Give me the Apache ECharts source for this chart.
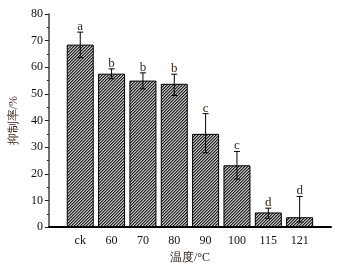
<!DOCTYPE html>
<html><head><meta charset="utf-8">
<script src="https://cdn.jsdelivr.net/npm/echarts@6/dist/echarts.min.js"></script>
<style>html,body{margin:0;padding:0;background:#fff}#c{width:343px;height:269px}</style>
</head><body><div id="c"></div>
<script>
var categories = ['ck','60','70','80','90','100','115','121'];
var values = [68.5, 57.6, 55.0, 53.8, 35.0, 23.2, 5.5, 3.7];
var errHigh = [73.2, 59.4, 57.9, 57.4, 42.6, 28.4, 7.1, 11.5];
var errLow = [63.6, 55.7, 51.9, 49.4, 27.9, 18.0, 3.3, 1.9];
var letters = ['a','b','b','b','c','c','d','d'];
var yTicks = [0,10,20,30,40,50,60,70,80];

var pc = document.createElement('canvas');
pc.width = 3; pc.height = 3;
var g = pc.getContext('2d');
g.fillStyle = '#c4c4c4'; g.fillRect(0,0,3,3);
g.fillStyle = '#202020';
g.fillRect(0,2,1,1); g.fillRect(1,1,1,1); g.fillRect(2,0,1,1);
g.fillStyle = '#777';
g.fillRect(1,2,1,1); g.fillRect(2,1,1,1); g.fillRect(0,0,1,1);

var font = '"Liberation Serif", "Times New Roman", serif';
var chart = echarts.init(document.getElementById('c'));
var barData = values.map(function(v,i){return [i+1, v];});
var errData = values.map(function(v,i){return [i+1, errLow[i], errHigh[i], letters[i]];});
chart.setOption({
  animation:false,
  grid:{left:40, right:12, top:14, bottom:40},
  xAxis:{type:'value', min:0, max:9, interval:1,
    axisLine:{lineStyle:{color:'#000', width:2}},
    axisTick:{show:false}, splitLine:{show:false},
    axisLabel:{color:'#111', fontFamily:font, fontSize:12, margin:8,
      formatter:function(v){return (v>=1&&v<=categories.length)?categories[v-1]:'';}},
    name:'温度/°C', nameLocation:'middle', nameGap:24,
    nameTextStyle:{color:'#2a2018', fontFamily:font, fontSize:12}},
  yAxis:{type:'value', min:yTicks[0], max:yTicks[yTicks.length-1], interval:10,
    axisLine:{show:true, lineStyle:{color:'#444', width:1.5}},
    axisTick:{show:true, length:4, lineStyle:{color:'#222'}},
    minorTick:{show:true, splitNumber:2, length:2, lineStyle:{color:'#222'}},
    splitLine:{show:false},
    axisLabel:{color:'#111', fontFamily:font, fontSize:12, margin:6},
    name:'抑制率/%', nameLocation:'middle', nameGap:23,
    nameTextStyle:{color:'#3a2418', fontFamily:font, fontSize:12}},
  series:[
    {type:'bar', data:barData, barWidth:27,
     itemStyle:{color:{image:pc, repetition:'repeat'}, borderColor:'#000', borderWidth:1}},
    {type:'custom', data:errData, z:5,
     renderItem:function(params, api){
       var x = api.value(0);
       var lo = api.coord([x, api.value(1)]);
       var hi = api.coord([x, api.value(2)]);
       var cw = 3;
       var st = {stroke:'#000', lineWidth:1};
       return {type:'group', children:[
         {type:'line', shape:{x1:lo[0],y1:lo[1],x2:hi[0],y2:hi[1]}, style:st},
         {type:'line', shape:{x1:lo[0]-cw,y1:lo[1],x2:lo[0]+cw,y2:lo[1]}, style:st},
         {type:'line', shape:{x1:hi[0]-cw,y1:hi[1],x2:hi[0]+cw,y2:hi[1]}, style:st},
         {type:'text', style:{text:letters[params.dataIndex], x:hi[0], y:hi[1]+1,
           textAlign:'center', textVerticalAlign:'bottom', fill:'#3a2a10',
           font:'13px "Liberation Serif", serif'}}
       ]};
     }}
  ]
});
</script></body></html>
